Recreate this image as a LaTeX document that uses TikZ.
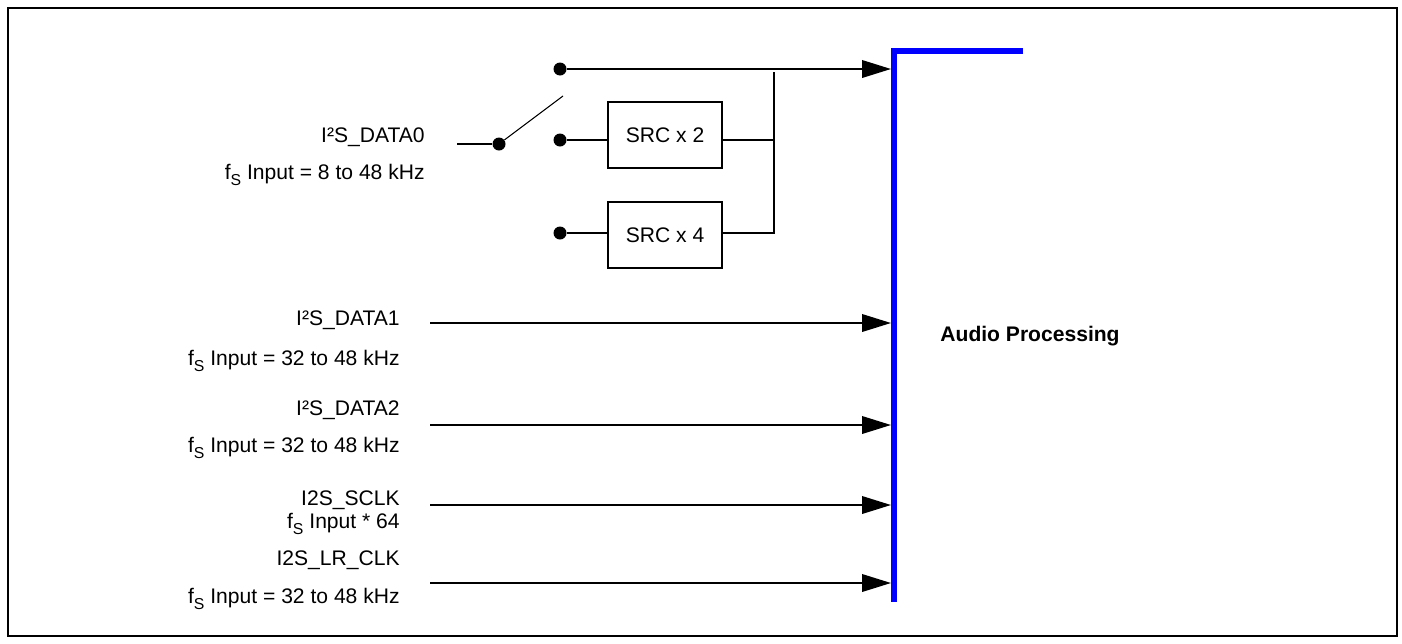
\documentclass[tikz,border=0pt]{standalone}
\usepackage{fontspec}
\setmainfont{Liberation Sans}
\usetikzlibrary{arrows.meta}
\newcommand{\fsamp}{f\raisebox{-0.5ex}{\fontsize{9}{10}\selectfont S}}

\begin{document}
\begin{tikzpicture}[x=0.02cm, y=-0.02cm, font=\fontsize{12}{14}\selectfont,
	wire/.style={line width=1.2pt},
	sig/.style={wire, -{Triangle[length=0.58cm, width=0.35cm]}},
	dot/.style={circle, fill, inner sep=0pt, minimum size=0.26cm},
	src/.style={draw, line width=1.2pt, minimum width=2.28cm, minimum height=1.32cm},
	lbl/.style={anchor=east, inner sep=0pt}]
	\useasboundingbox (0,0) rectangle (1402,643);
	\draw[line width=1.2pt] (8,8) rectangle (1397,636);

	% bus
	\draw[blue, line width=3.4pt] (1023,51) -- (894,51) -- (894,602);
	\coordinate (b0) at (891,69);
	\coordinate (b1) at (891,323);
	\coordinate (b2) at (891,425);
	\coordinate (b3) at (891,505);
	\coordinate (b4) at (891,583);
	\node[font=\bfseries\fontsize{12}{14}\selectfont] (audio) at (1030,336) {Audio Processing};

	% switch and SRC
	\coordinate (in0) at (457,144);
	\node[dot] (sw) at (499,144) {};
	\coordinate (swend) at (563,96);
	\draw[wire] (in0) to (sw);
	\draw[line width=0.6pt] (sw) to (swend);
	\node[dot] (d1) at (560,69) {};
	\node[dot] (d2) at (560,140) {};
	\node[dot] (d3) at (560,233) {};
	\node[src] (srcA) at (665,135) {SRC x 2};
	\node[src] (srcB) at (665,235) {SRC x 4};
	\coordinate (jn) at (774,72);
	\draw[sig] (d1) to (b0);
	\draw[wire] (d2) to (srcA.west |- d2);
	\draw[wire] (d3) to (srcB.west |- d3);
	\draw[wire] (srcA.east |- d2) to (jn |- d2);
	\draw[wire] (srcB.east |- d3) -| (jn);

	% other inputs
	\coordinate (i1) at (430,323);
	\coordinate (i2) at (430,425);
	\coordinate (i3) at (430,505);
	\coordinate (i4) at (430,583);
	\draw[sig] (i1) to (b1);
	\draw[sig] (i2) to (b2);
	\draw[sig] (i3) to (b3);
	\draw[sig] (i4) to (b4);

	% labels
	\node[lbl] (nD0) at (425,137) {I²S\_DATA0};
	\node[lbl] (fD0) at (425,175) {\fsamp\ Input = 8 to 48 kHz};
	\node[lbl] (nD1) at (400,320) {I²S\_DATA1};
	\node[lbl] (fD1) at (400,361) {\fsamp\ Input = 32 to 48 kHz};
	\node[lbl] (nD2) at (400,410) {I²S\_DATA2};
	\node[lbl] (fD2) at (400,448) {\fsamp\ Input = 32 to 48 kHz};
	\node[lbl] (nCK) at (400,500) {I2S\_SCLK};
	\node[lbl] (fCK) at (400,524) {\fsamp\ Input * 64};
	\node[lbl] (nLR) at (400,560) {I2S\_LR\_CLK};
	\node[lbl] (fLR) at (400,599) {\fsamp\ Input = 32 to 48 kHz};
\end{tikzpicture}
\end{document}
